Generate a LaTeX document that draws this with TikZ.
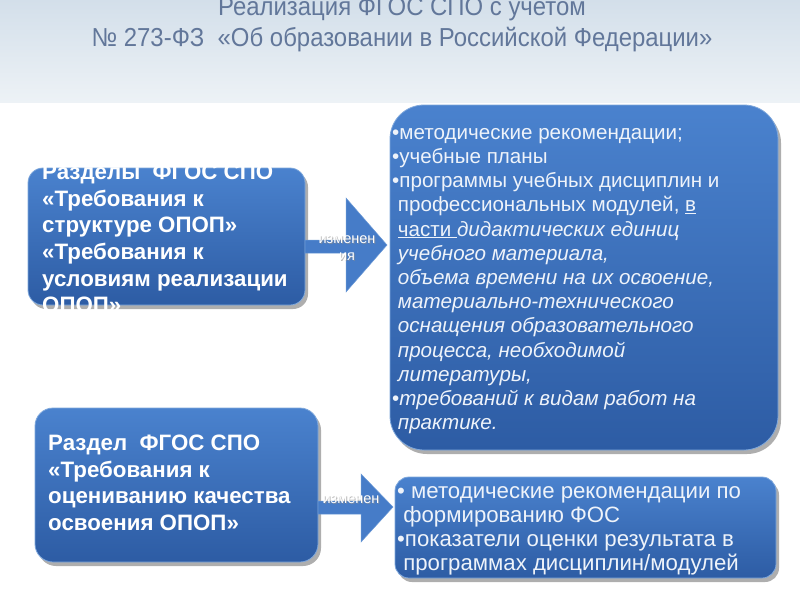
\documentclass[tikz,border=0pt]{standalone}
\usepackage{fontspec}
\setmainfont{Liberation Sans}
\newfontfamily\narrowfont[FakeStretch=0.92]{Liberation Sans}
\usetikzlibrary{shadows,calc}
\definecolor{boxtop}{HTML}{4A82CE}
\definecolor{boxbot}{HTML}{2D5CA4}
\definecolor{boxedge}{HTML}{7FA8DC}
\definecolor{titlecol}{HTML}{62779A}
\definecolor{bandtop}{HTML}{D3DFEA}
\definecolor{bandbot}{HTML}{EDF2F6}
\definecolor{txtw}{HTML}{EEF3FA}
\tikzset{
  bluebox/.style={draw=boxedge, line width=0.8pt, top color=boxtop, bottom color=boxbot,
    drop shadow={shadow xshift=3pt, shadow yshift=-4pt, opacity=0.45, fill=black!70}},
  arrowshape/.style={fill=boxtop!85!boxbot, draw=boxedge!60!boxtop, line width=0.5pt},
  boldtxt/.style={text=white, font=\bfseries\fontsize{22.3}{26.6}\selectfont, align=left, inner sep=0pt},
  listtxt/.style={text=txtw, font=\fontsize{20.6}{24.2}\selectfont, align=left, inner sep=0pt},
  smalltxt/.style={text=white, font=\fontsize{14.5}{17}\selectfont, inner sep=0pt},
  smallshadow/.style={smalltxt, text=black!45, opacity=0.6},
}
\begin{document}
\begin{tikzpicture}[x=1pt,y=-1pt]
\useasboundingbox (0,0) rectangle (800,600);
\fill[white] (0,0) rectangle (800,600);
% header band
\shade[top color=bandtop, bottom color=bandbot] (0,0) rectangle (800,102);
\node[text=titlecol, font=\narrowfont\fontsize{26}{31}\selectfont, align=center, inner sep=0pt] (title) at (402,25)
  {Реализация ФГОС СПО с учетом\\№ 273-ФЗ \ «Об образовании в Российской Федерации»};

% boxes
\path[bluebox, rounded corners=15pt] (28,168) rectangle (305,305);
\coordinate (A) at (166,236);
\path[bluebox, rounded corners=34pt] (390,105) rectangle (778,450);
\coordinate (B) at (584,277);
\path[bluebox, rounded corners=18pt] (35,408) rectangle (318,562);
\coordinate (C) at (176,485);
\path[bluebox, rounded corners=14pt] (395,477) rectangle (776,578);
\coordinate (D) at (585,527);

% arrows
\coordinate (a1s) at (305,247);
\coordinate (a1t) at (387,245);
\path[arrowshape] (a1s |- 0,240) -- (346,240) -- (346,198) -- (a1t) -- (346,292) -- (346,253) -- (a1s |- 0,253) -- cycle;
\node[smallshadow, align=center] (lab1s) at (348,249) {изменен\\ия};
\node[smalltxt, align=center] (lab1) at (347,248) {изменен\\ия};
\coordinate (a2s) at (318,507);
\coordinate (a2t) at (393,507);
\path[arrowshape] (a2s |- 0,501) -- (361,501) -- (361,474) -- (a2t) -- (361,542) -- (361,514) -- (a2s |- 0,514) -- cycle;
\node[smallshadow] (lab2s) at (352,501) {изменен};
\node[smalltxt] (lab2) at (351,500) {изменен};

% texts
\node[boldtxt, anchor=north west] (tA) at (42,164)
  {Разделы \ ФГОС СПО\\«Требования к\\структуре ОПОП»\\«Требования к\\условиям реализации\\ОПОП»};
\node[boldtxt, anchor=north west] (tC) at (48,435)
  {Раздел \ ФГОС СПО\\«Требования к\\оцениванию качества\\освоения ОПОП»};
\node[listtxt, anchor=north west] (tB) at (392,128)
  {•методические рекомендации;\\
   •учебные планы\\
   •программы учебных дисциплин и\\
   \ профессиональных модулей, \underline{в}\\
   \ \underline{части }\textit{дидактических единиц}\\
   \ \textit{учебного материала,}\\
   \ \textit{объема времени на их освоение,}\\
   \ \textit{материально-технического}\\
   \ \textit{оснащения образовательного}\\
   \ \textit{процесса, необходимой}\\
   \ \textit{литературы,}\\
   •\textit{требований к видам работ на}\\
   \ \textit{практике.}};
\node[listtxt, font=\fontsize{22.2}{24.2}\selectfont, anchor=north west] (tD) at (397,486)
  {• методические рекомендации по\\
   \ формированию ФОС\\
   •показатели оценки результата в\\
   \ программах дисциплин/модулей};
\end{tikzpicture}
\end{document}
